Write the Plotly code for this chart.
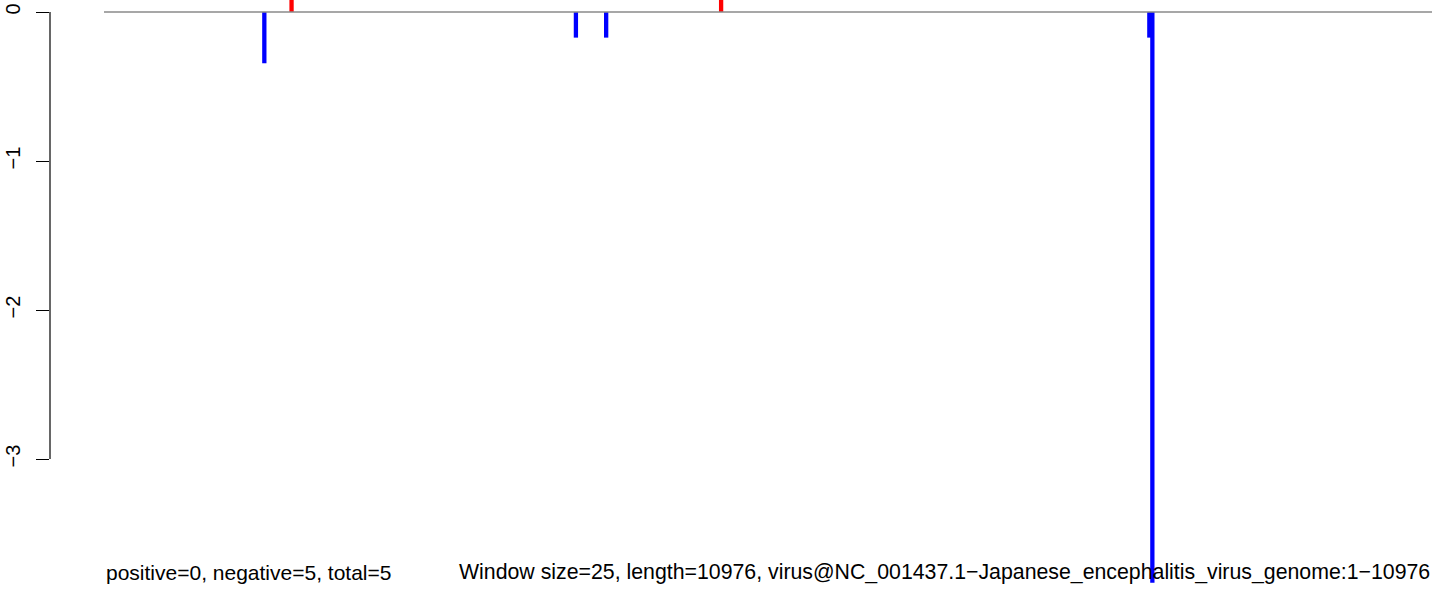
import plotly.graph_objects as go

# ---- data ----
genome_length = 10976
window_size = 25
neg_x = [1326, 3901, 4151, 8640, 8665]
neg_y = [-0.344, -0.172, -0.172, -0.172, -3.83]
pos_x = [1551, 5101]
pos_y = [0.2, 0.2]
y_ticks = [0, -1, -2, -3]
y_ticklabels = ["0", "\u22121", "\u22122", "\u22123"]
left_text = "positive=0, negative=5, total=5"
right_text = ("Window size=25, length=10976, "
              "virus@NC_001437.1\u2212Japanese_encephalitis_virus_genome:1\u221210976")

W, H = 1444, 595
FONT = "Liberation Sans, Arial, Helvetica, sans-serif"

# R-style x range: data 1..length with ~4% extension on the left edge
units_per_px = (genome_length - 1) / 1328.0
ml = 50
x_lo = 1 - (104 - ml) * units_per_px
x_hi = x_lo + (W - ml) * units_per_px
y_hi = 12 / 149.0
y_lo = -(H - 12) / 149.0

bar_w = 4.3 * units_per_px

fig = go.Figure()

# zero reference line
fig.add_trace(go.Scatter(
    x=[1, genome_length], y=[0, 0], mode="lines",
    line=dict(color="#8a8a8a", width=1.5), hoverinfo="skip", showlegend=False))

fig.add_trace(go.Bar(
    x=neg_x, y=neg_y, width=bar_w, marker=dict(color="#0000FF", line=dict(width=0)),
    showlegend=False))
fig.add_trace(go.Bar(
    x=pos_x, y=pos_y, width=bar_w, marker=dict(color="#FF0000", line=dict(width=0)),
    showlegend=False))

fig.update_layout(
    width=W, height=H,
    margin=dict(l=ml, r=0, t=0, b=0),
    paper_bgcolor="white", plot_bgcolor="white",
    barmode="overlay",
    font=dict(family=FONT, color="black", size=20),
    xaxis=dict(range=[x_lo, x_hi], visible=False, showgrid=False, zeroline=False),
    yaxis=dict(range=[y_lo, y_hi], showgrid=False, zeroline=False, showline=False,
               tickmode="array", tickvals=y_ticks, ticktext=y_ticklabels,
               ticks="outside", ticklen=13, tickwidth=1.2, tickcolor="black",
               tickangle=-90, ticklabelstandoff=8,
               tickfont=dict(size=20, family=FONT, color="black")),
    shapes=[dict(type="line", xref="paper", yref="y", x0=0, x1=0, y0=0, y1=-3,
                 line=dict(color="black", width=1.2))],
    annotations=[
        dict(text=left_text, xref="x", yref="y", x=1, y=-(572 - 12) / 149.0,
             xanchor="left", yanchor="middle", showarrow=False,
             font=dict(size=21, family=FONT, color="black")),
        dict(text=right_text, xref="x", yref="y", x=genome_length, y=-(572 - 12) / 149.0,
             xanchor="right", yanchor="middle", showarrow=False,
             font=dict(size=21.3, family=FONT, color="black")),
    ],
)

fig.write_html("out.html", config={"displayModeBar": False},
               post_script="document.body.style.margin='0';document.body.style.overflow='hidden';")
